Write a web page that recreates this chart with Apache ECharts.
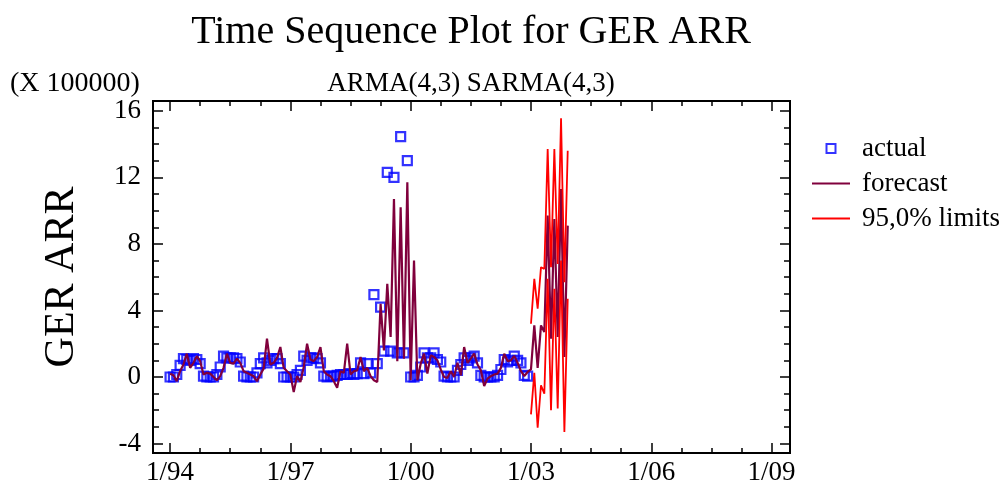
<!DOCTYPE html>
<html>
<head>
<meta charset="utf-8">
<script src="https://cdn.jsdelivr.net/npm/echarts@6/dist/echarts.min.js"></script>
<style>
  html, body { margin: 0; padding: 0; background: #fff; }
  #chart { width: 1005px; height: 491px; }
</style>
</head>
<body>
<div id="chart"></div>
<script>
// ---- data (values in units of 100000) ----
const startYear = 1994;
const actualValues = [
  0.0, 0.0, 0.15, 0.7, 1.1, 1.05, 1.0, 1.1, 1.05, 0.8, 0.05, 0.0,      // 1994
  0.0, 0.0, 0.15, 0.6, 1.25, 1.15, 1.15, 1.15, 1.1, 0.9, 0.05, 0.0,    // 1995
  0.0, 0.0, 0.25, 0.8, 1.15, 0.85, 1.0, 1.1, 1.1, 0.8, 0.0, 0.0,       // 1996
  0.0, 0.0, 0.15, 0.4, 1.25, 1.0, 1.15, 1.15, 1.1, 0.85, 0.05, 0.0,    // 1997
  0.05, 0.05, 0.1, 0.15, 0.15, 0.15, 0.2, 0.15, 0.2, 0.85, 0.2, 0.8,   // 1998
  0.25, 4.95, 0.8, 4.2, 1.55, 12.3, 1.55, 12.0, 1.45, 14.45, 1.45, 13.0, // 1999
  0.0, 0.0, 0.1, 0.6, 1.45, 1.15, 1.15, 1.45, 1.05, 0.9, 0.05, 0.0,    // 2000
  0.0, 0.0, 0.4, 0.75, 1.15, 1.0, 1.15, 1.25, 0.85, 0.1, 0.0, 0.0,     // 2001
  0.0, 0.0, 0.1, 0.45, 1.05, 0.9, 1.0, 1.25, 1.0, 0.85, 0.1, 0.05      // 2002
];
const forecastValues = [
  0.2, 0.1, -0.25, 0.35, 0.75, 1.4, 0.55, 0.85, 1.25, 0.95, 0.15, 0.25,  // 1994
  0.2, 0.0, -0.2, 0.05, 0.55, 1.4, 0.85, 0.8, 1.1, 0.85, 0.35, 0.25,     // 1995
  0.15, 0.05, -0.25, 0.15, 0.5, 2.3, 0.75, 0.85, 1.15, 1.8, 0.55, 0.35,  // 1996
  0.15, -0.9, 0.05, -0.3, 0.6, 2.0, 1.05, 0.95, 1.2, 1.8, 0.35, 0.15,    // 1997
  0.05, -0.25, -0.65, 0.35, 0.25, 2.0, 0.15, 0.35, 0.4, 1.2, 0.35, 0.55, // 1998
  0.05, -0.2, -0.3, 4.4, 1.6, 5.6, 2.4, 10.7, 0.95, 10.2, 1.1, 11.7,     // 1999
  -0.2, 7.0, -0.2, 0.8, 1.4, 0.2, 1.3, 1.2, 1.0, 0.45, 0.0, -0.05,       // 2000
  0.35, 0.0, 0.85, 0.1, 1.8, 0.85, 1.1, 1.4, 0.75, 0.4, -0.55, -0.1,     // 2001
  0.05, 0.15, 0.2, 0.55, 1.4, 0.95, 1.0, 1.27, 0.85, 0.35, 0.05, 0.3,    // 2002
  0.45, 3.1, 0.55, 3.1, 2.7, 9.7, 2.3, 9.5, 2.4, 11.3, 1.2, 9.1          // 2003
];
const limitStartYear = 2003;
const upperLimits = [3.2, 5.9, 4.1, 6.6, 6.5, 13.7, 6.6, 13.7, 6.8, 15.55, 5.7, 13.6];
const lowerLimits = [-2.25, 0.25, -3.05, -0.5, -1.0, 5.9, -2.0, 5.3, -1.9, 7.0, -3.3, 4.7];

const xTickValues = [1994, 1997, 2000, 2003, 2006, 2009];
const xTickLabels = ['1/94', '1/97', '1/00', '1/03', '1/06', '1/09'];
const yTickValues = [-4, 0, 4, 8, 12, 16];

// ---- chart ----
const FONT = "'Liberation Serif', 'Times New Roman', serif";
const xMin = 1993.574, xMax = 2009.46, yMin = -4.57, yMax = 16.59;
const xMinor = [];
for (let k = 0; k <= 20; k++) xMinor.push(1994 + k * 0.75);
const yMinor = [];
for (let v = -4; v <= 16; v++) yMinor.push(v);

const monthly = (arr, y0) => arr.map((v, i) => [y0 + i / 12, v]);

function makeAxis(position, min, max, ticks, len, labels, extra) {
  return Object.assign({
    type: 'value', position, min, max,
    axisLine: { show: false, onZero: false },
    splitLine: { show: false },
    axisTick: { show: true, inside: true, length: len, customValues: ticks,
                lineStyle: { color: '#000', width: 1.5 } },
    axisLabel: labels || { show: false }
  }, extra || {});
}

const chart = echarts.init(document.getElementById('chart'), null, { renderer: 'canvas' });
chart.setOption({
  animation: false,
  backgroundColor: '#fff',
  title: [
    { text: 'Time Sequence Plot for GER ARR', left: 471, top: 12, textAlign: 'center', padding: 0,
      textStyle: { fontSize: 40, fontWeight: 'normal', fontFamily: FONT, color: '#000' } },
    { text: 'ARMA(4,3) SARMA(4,3)', left: 471, top: 70, textAlign: 'center', padding: 0,
      textStyle: { fontSize: 27, fontWeight: 'normal', fontFamily: FONT, color: '#000' } },
    { text: '(X 100000)', left: 10, top: 70, padding: 0,
      textStyle: { fontSize: 28, fontWeight: 'normal', fontFamily: FONT, color: '#000' } }
  ],
  grid: { left: 153, right: 215, top: 101, bottom: 38, show: true,
          borderColor: '#000', borderWidth: 2, backgroundColor: 'transparent' },
  legend: {
    orient: 'vertical', left: 807, top: 130, itemWidth: 38, itemHeight: 9, itemGap: 8,
    textStyle: { fontSize: 27, fontFamily: FONT, color: '#000', padding: [0, 0, 0, 7] },
    data: [
      { name: 'actual', icon: 'path://M0,0H10V10H0Z' },
      { name: 'forecast', icon: 'path://M0,0H38V2H0Z' },
      { name: '95,0% limits', icon: 'path://M0,0H38V2H0Z' }
    ]
  },
  xAxis: [
    makeAxis('bottom', xMin, xMax, xTickValues, 10, {
      show: true, customValues: xTickValues, margin: 6,
      formatter: v => xTickLabels[xTickValues.indexOf(Math.round(v))],
      fontSize: 27, fontFamily: FONT, color: '#000'
    }),
    makeAxis('bottom', xMin, xMax, xMinor, 5),
    makeAxis('top', xMin, xMax, xTickValues, 10),
    makeAxis('top', xMin, xMax, xMinor, 5)
  ],
  yAxis: [
    makeAxis('left', yMin, yMax, yTickValues, 10, {
      show: true, customValues: yTickValues, margin: 12,
      fontSize: 27, fontFamily: FONT, color: '#000'
    }, {
      name: 'GER ARR', nameLocation: 'middle', nameGap: 70, nameRotate: 90,
      nameTextStyle: { fontSize: 42, fontFamily: FONT, color: '#000' }
    }),
    makeAxis('left', yMin, yMax, yMinor, 6),
    makeAxis('right', yMin, yMax, yTickValues, 10),
    makeAxis('right', yMin, yMax, yMinor, 6)
  ],
  series: [
    { name: 'actual', type: 'scatter', xAxisIndex: 0, yAxisIndex: 0,
      data: monthly(actualValues, startYear),
      symbol: 'rect', symbolSize: 9,
      itemStyle: { color: 'rgba(0,0,0,0)', borderColor: '#0000ff', borderWidth: 2.2 },
      z: 2 },
    { name: 'forecast', type: 'line', xAxisIndex: 0, yAxisIndex: 0,
      data: monthly(forecastValues, startYear),
      symbol: 'none', showSymbol: false,
      lineStyle: { color: '#80003c', width: 2.2 }, itemStyle: { color: '#80003c' },
      z: 3 },
    { name: '95,0% limits', type: 'line', xAxisIndex: 0, yAxisIndex: 0,
      data: monthly(upperLimits, limitStartYear),
      symbol: 'none', showSymbol: false,
      lineStyle: { color: '#ff0000', width: 1.8 }, itemStyle: { color: '#ff0000' },
      z: 4 },
    { name: '95,0% limits', type: 'line', xAxisIndex: 0, yAxisIndex: 0,
      data: monthly(lowerLimits, limitStartYear),
      symbol: 'none', showSymbol: false,
      lineStyle: { color: '#ff0000', width: 1.8 }, itemStyle: { color: '#ff0000' },
      z: 4 }
  ]
});
</script>
</body>
</html>
